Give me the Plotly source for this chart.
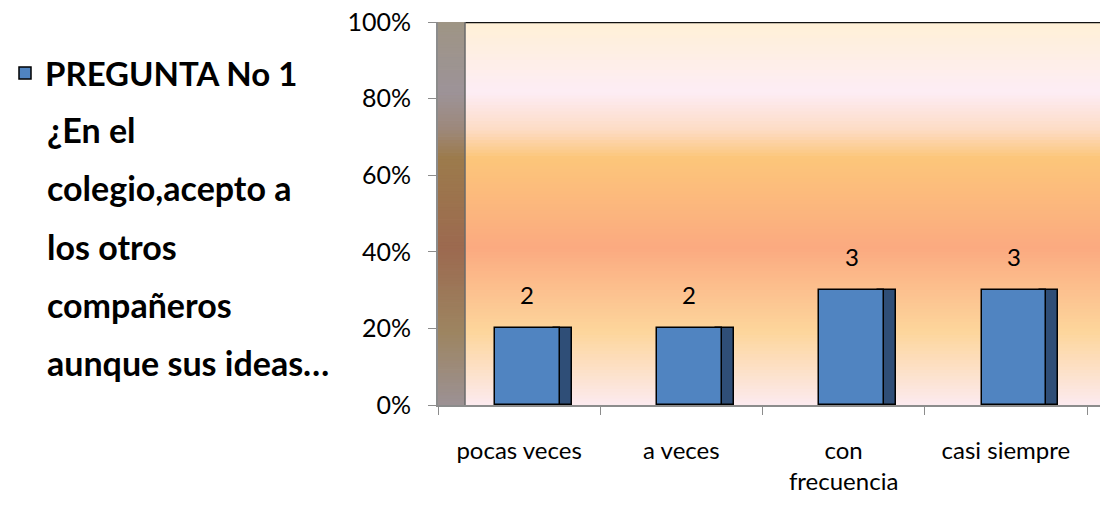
import plotly.graph_objects as go

# ---- data ----
categories = ["pocas veces", "a veces", "con frecuencia", "casi siempre"]
tick_text = ["pocas veces", "a veces", "con<br>frecuencia", "casi siempre"]
percentages = [0.20, 0.20, 0.30, 0.30]
counts = [2, 2, 3, 3]
series_name = "PREGUNTA No 1"
legend_lines = ["¿En el", "colegio,acepto a", "los otros", "compañeros", "aunque sus ideas…"]
y_tickvals = [0, 0.2, 0.4, 0.6, 0.8, 1.0]
y_ticktext = ["0%", "20%", "40%", "60%", "80%", "100%"]

W, H = 1100, 506
# plot area pixels
PX_L, PX_R, PX_T, PX_B = 438, 1100, 22, 405
CAT_PX = 162.25
x_range = [-0.5, -0.5 + (PX_R - PX_L) / CAT_PX]
wall_x0 = (465 - PX_L) / (PX_R - PX_L)  # in x-domain fraction

def hex2rgb(h):
    h = h.lstrip("#")
    return tuple(int(h[i:i + 2], 16) for i in (0, 2, 4))

stops = [
    (0.00, "#FCEAEF"),
    (0.19, "#FDD69C"),
    (0.41, "#FBAA80"),
    (0.645, "#FCC67A"),
    (0.72, "#FDDCC6"),
    (0.817, "#FDEDF5"),
    (1.00, "#FFF0D6"),
]

def grad_color(t, dark=1.0):
    for (a, ca), (b, cb) in zip(stops[:-1], stops[1:]):
        if a <= t <= b:
            f = (t - a) / (b - a) if b > a else 0
            r1, g1, b1 = hex2rgb(ca)
            r2, g2, b2 = hex2rgb(cb)
            c = [(r1 + (r2 - r1) * f) * dark, (g1 + (g2 - g1) * f) * dark, (b1 + (b2 - b1) * f) * dark]
            return "rgb(%d,%d,%d)" % tuple(int(round(v)) for v in c)
    return stops[-1][1]

shapes = []
N = 120
for i in range(N):
    y0 = i / N
    y1 = (i + 1) / N + 0.002
    t = (i + 0.5) / N
    shapes.append(dict(type="rect", xref="x domain", yref="y", x0=wall_x0, x1=1, y0=y0, y1=min(y1, 1),
                       fillcolor=grad_color(t), line=dict(width=0), layer="below"))
    shapes.append(dict(type="rect", xref="x domain", yref="y", x0=0, x1=wall_x0, y0=y0, y1=min(y1, 1),
                       fillcolor=grad_color(t, 0.62), line=dict(width=0), layer="below"))
# wall edges
shapes.append(dict(type="line", xref="x domain", yref="y", x0=wall_x0, x1=1, y0=1, y1=1,
                   line=dict(color="#111111", width=2.5), layer="below"))
shapes.append(dict(type="line", xref="x domain", yref="y", x0=wall_x0, x1=wall_x0, y0=0, y1=1,
                   line=dict(color="#6A6A6A", width=1.5), layer="below"))

fig = go.Figure()
# dark side faces of the 3D columns
fig.add_trace(go.Bar(
    x=categories, y=percentages, offset=0.213, width=0.111,
    marker=dict(color="#2F4E77", line=dict(color="#000000", width=1.5)),
    showlegend=False, hoverinfo="skip"))
# front faces
fig.add_trace(go.Bar(
    x=categories, y=percentages, offset=-0.150, width=0.40,
    name=series_name,
    marker=dict(color="#5084C1", line=dict(color="#000000", width=1.5)),
    showlegend=True))

annotations = []
for i, (c, p, n) in enumerate(zip(categories, percentages, counts)):
    annotations.append(dict(x=i + 0.05, y=p, xref="x", yref="y", text=str(n), showarrow=False,
                            yanchor="bottom", yshift=17,
                            font=dict(family="Lato", size=24, color="#000000")))
line_px = [129, 187, 246, 304, 362]
for txt, ypx in zip(legend_lines, line_px):
    annotations.append(dict(x=45 / W, y=1 - ypx / H, xref="paper", yref="paper", text=txt,
                            showarrow=False, xanchor="left", yanchor="middle",
                            font=dict(family="Lato", size=34, color="#000000", weight=700)))

fig.update_layout(
    width=W, height=H,
    margin=dict(l=0, r=0, t=0, b=0, autoexpand=False),
    paper_bgcolor="white", plot_bgcolor="white",
    barmode="overlay",
    bargap=0,
    shapes=shapes,
    annotations=annotations,
    showlegend=True,
    legend=dict(x=5 / W, y=1 - 45 / H, xanchor="left", yanchor="top",
                font=dict(family="Lato", size=33, color="#000000", weight=700),
                bgcolor="rgba(0,0,0,0)", itemclick=False, itemdoubleclick=False),
    xaxis=dict(domain=[PX_L / W, 1], range=x_range, type="category", automargin=False,
               tickmode="array", tickvals=categories, ticktext=tick_text,
               tickson="boundaries", ticks="outside", ticklen=8, tickcolor="#8C8C8C",
               showline=True, linecolor="#8C8C8C", linewidth=2, showgrid=False, zeroline=False,
               ticklabelstandoff=23,
               tickfont=dict(family="Lato", size=24, color="#000000")),
    yaxis=dict(domain=[1 - PX_B / H, 1 - PX_T / H], range=[0, 1], automargin=False,
               tickvals=y_tickvals, ticktext=y_ticktext,
               ticks="outside", ticklen=8, tickcolor="#8C8C8C",
               showline=True, linecolor="#8C8C8C", linewidth=2, showgrid=False, zeroline=False,
               ticklabelstandoff=12,
               tickfont=dict(family="Lato", size=25, color="#000000")),
)

fig.write_html("out.html", config={"displayModeBar": False},
               post_script="document.body.style.margin='0';")
